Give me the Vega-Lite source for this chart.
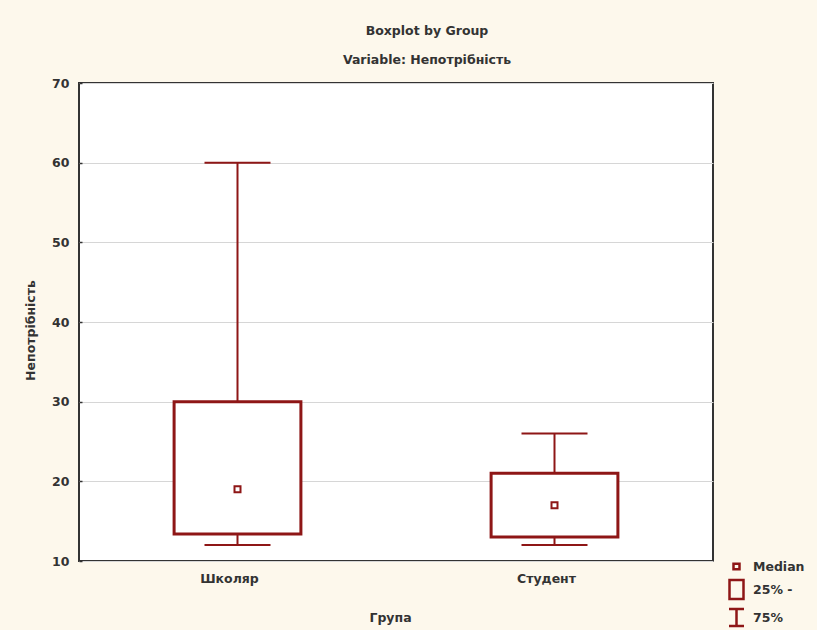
{
  "$schema": "https://vega.github.io/schema/vega-lite/v6.json",
  "autosize": {"type": "none"},
  "width": 634,
  "height": 478,
  "padding": {"left": 79, "top": 83, "right": 104, "bottom": 69},
  "background": "#FDF8EC",
  "title": {
    "text": "Boxplot by Group",
    "subtitle": "Variable: Непотрібність",
    "anchor": "middle",
    "dx": 31,
    "offset": 11,
    "font": "DejaVu Sans",
    "fontSize": 12.5,
    "fontWeight": "bold",
    "color": "#333333",
    "subtitleFont": "DejaVu Sans",
    "subtitleFontSize": 12.5,
    "subtitleFontWeight": "bold",
    "subtitleColor": "#333333",
    "subtitlePadding": 16
  },
  "config": {
    "view": {"fill": "white", "stroke": "#333333", "strokeWidth": 2},
    "font": "DejaVu Sans",
    "legend": {
      "symbolFillColor": "white",
      "symbolStrokeColor": "#8E1616",
      "symbolStrokeWidth": 2.5,
      "symbolOpacity": 1,
      "symbolSize": 400,
      "labelFont": "DejaVu Sans",
      "labelFontSize": 12.5,
      "labelFontWeight": "bold",
      "labelColor": "#333333",
      "padding": 0,
      "rowPadding": 0,
      "labelOffset": 5
    }
  },
  "datasets": {
    "stats": [
      {"Group": "Школяр", "low": 12, "q1": 13.4, "median": 19, "q3": 30, "high": 60},
      {"Group": "Студент", "low": 12, "q1": 13, "median": 17, "q3": 21, "high": 26}
    ],
    "legend": [
      {"leg": "Median", "v": null},
      {"leg": "25% -", "v": null},
      {"leg": "75%", "v": null}
    ]
  },
  "encoding": {
    "x": {
      "field": "Group",
      "type": "nominal",
      "sort": ["Школяр", "Студент"],
      "scale": {"domain": ["Школяр", "Студент"], "paddingInner": 0.6, "paddingOuter": 0.3},
      "axis": {
        "title": "Група",
        "labelAngle": 0,
        "domain": false,
        "ticks": false,
        "labelPadding": 11,
        "labelOffset": -8,
        "labelFontSize": 12.5,
        "labelFontWeight": "bold",
        "labelColor": "#333333",
        "titleFontSize": 12.5,
        "titleFontWeight": "bold",
        "titleColor": "#333333",
        "titleX": 311,
        "titleY": 56,
        "titleBaseline": "middle"
      }
    }
  },
  "layer": [
    {
      "data": {"name": "stats"},
      "mark": {"type": "rule", "color": "#8E1616", "strokeWidth": 2},
      "encoding": {
        "y": {
          "field": "low",
          "type": "quantitative",
          "scale": {"domain": [10, 70], "nice": false, "zero": false},
          "axis": {
            "title": "Непотрібність",
            "values": [10, 20, 30, 40, 50, 60, 70],
            "domain": false,
            "ticks": true,
            "tickSize": -3,
            "tickColor": "#333333",
            "tickWidth": 1.5,
            "gridColor": "#D6D6D6",
            "gridWidth": 1,
            "labelPadding": 13,
            "labelFontSize": 12.5,
            "labelFontWeight": "bold",
            "labelColor": "#333333",
            "titleFontSize": 12.5,
            "titleFontWeight": "bold",
            "titleColor": "#333333",
            "titleAngle": -90,
            "titleX": -49,
            "titleY": 247,
            "titleAlign": "center",
            "titleBaseline": "middle"
          }
        },
        "y2": {"field": "high"}
      }
    },
    {
      "data": {"name": "stats"},
      "mark": {"type": "tick", "color": "#8E1616", "thickness": 2, "size": 66, "opacity": 1},
      "encoding": {"y": {"field": "low", "type": "quantitative"}}
    },
    {
      "data": {"name": "stats"},
      "mark": {"type": "tick", "color": "#8E1616", "thickness": 2, "size": 66, "opacity": 1},
      "encoding": {"y": {"field": "high", "type": "quantitative"}}
    },
    {
      "data": {"name": "stats"},
      "mark": {"type": "bar", "fill": "white", "stroke": "#8E1616", "strokeWidth": 3},
      "encoding": {
        "y": {"field": "q1", "type": "quantitative"},
        "y2": {"field": "q3"}
      }
    },
    {
      "data": {"name": "stats"},
      "mark": {"type": "point", "shape": "square", "size": 36, "filled": false, "fill": "white", "stroke": "#8E1616", "strokeWidth": 2, "opacity": 1},
      "encoding": {"y": {"field": "median", "type": "quantitative"}}
    },
    {
      "data": {"name": "legend"},
      "mark": {"type": "point", "filled": false, "stroke": "#8E1616", "opacity": 1},
      "encoding": {
        "x": {"value": 0},
        "y": {"field": "v", "type": "quantitative"},
        "shape": {
          "field": "leg",
          "type": "nominal",
          "scale": {
            "domain": ["Median", "25% -", "75%"],
            "range": [
              "M-0.3,-0.28H0.3V0.28H-0.3Z",
              "M-0.7,-0.95H0.7V0.95H-0.7Z",
              "M-0.75,-0.85H0.75M0,-0.85V0.85M-0.75,0.85H0.75"
            ]
          },
          "legend": {"title": null, "orient": "none", "legendX": 646, "legendY": 472, "symbolOpacity": 1}
        }
      }
    }
  ]
}
